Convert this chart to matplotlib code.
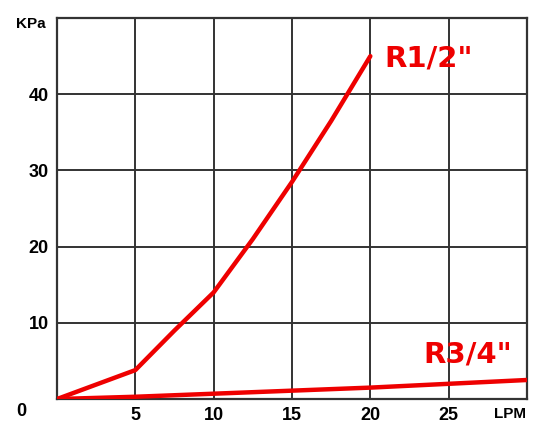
import matplotlib
matplotlib.use("Agg")
import matplotlib.pyplot as plt

# dados (vazao LPM x perda de carga KPa)
lpm_r12 = [0, 5, 7.5, 10, 12.5, 15, 17.5, 20]
kpa_r12 = [0, 3.8, 9.0, 14.0, 21.0, 28.5, 36.5, 45.0]

lpm_r34 = [0, 5, 10, 15, 20, 25, 30]
kpa_r34 = [0, 0.3, 0.7, 1.1, 1.5, 2.0, 2.5]

x_ticks = [5, 10, 15, 20, 25]
y_ticks = [10, 20, 30, 40]

plt.rcParams["font.family"] = ["Liberation Sans", "DejaVu Sans"]

fig = plt.figure(figsize=(5.43, 4.30), dpi=100)
ax = fig.add_axes([0.105, 0.072, 0.8655, 0.886])

ax.set_xlim(0, 30)
ax.set_ylim(0, 50)

grid_color = "#333333"
for x in x_ticks:
    ax.axvline(x, color=grid_color, lw=1.4, zorder=1)
for y in y_ticks:
    ax.axhline(y, color=grid_color, lw=1.4, zorder=1)
for s in ax.spines.values():
    s.set_color(grid_color)
    s.set_linewidth(1.6)

red = "#ee0000"
ax.plot(lpm_r12, kpa_r12, color=red, lw=3.2, solid_capstyle="round", zorder=3)
ax.plot(lpm_r34, kpa_r34, color=red, lw=3.2, solid_capstyle="round", zorder=3)

ax.text(20.9, 44.7, 'R1/2"', color=red, fontsize=21, fontweight="bold", va="center",
        ha="left", family="DejaVu Sans", zorder=4)
ax.text(23.4, 5.9, 'R3/4"', color=red, fontsize=21, fontweight="bold", va="center",
        ha="left", family="DejaVu Sans", zorder=4)

ax.set_xticks(x_ticks)
ax.set_xticklabels([str(v) for v in x_ticks])
ax.set_yticks(y_ticks)
ax.set_yticklabels([str(v) for v in y_ticks])
ax.tick_params(length=0, labelsize=13, pad=6)
for lab in ax.get_xticklabels() + ax.get_yticklabels():
    lab.set_fontweight("bold")

ax.text(-0.065, -0.033, "0", transform=ax.transAxes, fontsize=13, fontweight="bold",
        ha="right", va="center")
ax.text(0.963, -0.038, "LPM", transform=ax.transAxes, fontsize=11, fontweight="bold",
        ha="center", va="center")
ax.text(-0.025, 0.985, "KPa", transform=ax.transAxes, fontsize=11, fontweight="bold",
        ha="right", va="center")

fig.savefig("out.png", dpi=100)
